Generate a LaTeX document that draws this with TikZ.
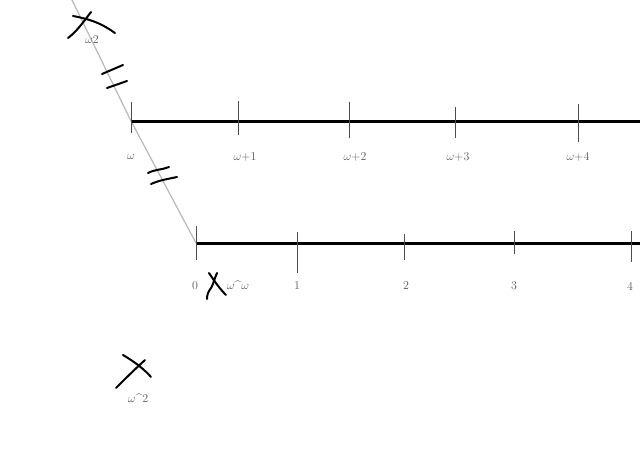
\documentclass[tikz,border=0pt]{standalone}
\usepackage{tikz}
\begin{document}
\begin{tikzpicture}[x=1pt,y=-1pt,
  axis/.style={line width=3pt,black},
  tick/.style={line width=0.8pt,black!70},
  diag/.style={line width=1.2pt,black!28},
  hand/.style={line width=2pt,black,line cap=round},
  lab/.style={text=black!65,font=\fontsize{12}{14}\selectfont,inner sep=0pt}]
\useasboundingbox (0,0) rectangle (640,463);
% diagonal
\coordinate (top) at (72,0);
\coordinate (w) at (131,121);
\coordinate (z) at (196,243);
\draw[diag] (top) -- (w) -- (z);
% axes
\coordinate (ue) at (640,121);
\coordinate (le) at (640,243);
\draw[axis] (w) -- (ue);
\draw[axis] (z) -- (le);
% upper ticks
\draw[tick] (131,102) -- (131,133);
\draw[tick] (238,101) -- (238,135);
\draw[tick] (349,102) -- (349,138);
\draw[tick] (455,107) -- (455,138);
\draw[tick] (578,104) -- (578,142);
% lower ticks
\draw[tick] (196,226) -- (196,260);
\draw[tick] (297,232) -- (297,273);
\draw[tick] (404,234) -- (404,260);
\draw[tick] (514,231) -- (514,254);
\draw[tick] (631,231) -- (631,262);
% labels
\node[lab] (lw) at (131,157) {$\omega$};
\node[lab] (lw1) at (245,157) {$\omega$+1};
\node[lab] (lw2) at (355,157) {$\omega$+2};
\node[lab] (lw3) at (458,157) {$\omega$+3};
\node[lab] (lw4) at (578,157) {$\omega$+4};
\node[lab] (l0) at (195,286) {0};
\node[lab] (l1) at (297,286) {1};
\node[lab] (l2) at (406,286) {2};
\node[lab] (l3) at (514,286) {3};
\node[lab] (l4) at (630,286) {4};
\node[lab] (lww) at (238,285) {$\omega$\^{}$\omega$};
\node[lab] (lwt) at (92,40) {$\omega$2};
\node[lab] (lwsq) at (138,398) {$\omega$\^{}2};
% hand-drawn marks
\draw[hand] (73,16) .. controls (95,20) and (105,26) .. (115,33);
\draw[hand] (91,12) .. controls (82,24) and (76,32) .. (68,38);
\draw[hand] (102,74) -- (123,65);
\draw[hand] (107,88) -- (127,81);
\draw[hand] (148,173) .. controls (156,169) and (162,170) .. (169,167);
\draw[hand] (151,184) .. controls (160,180) and (168,179) .. (177,177);
\draw[hand] (209,273) .. controls (215,282) and (220,289) .. (226,295);
\draw[hand] (217,273) .. controls (214,280) and (213,285) .. (211,288) .. controls (208,292) and (207,295) .. (207,299);
\draw[hand] (123,355) .. controls (135,362) and (145,370) .. (151,377);
\draw[hand] (145,360) .. controls (134,370) and (124,380) .. (116,388);
\end{tikzpicture}
\end{document}
